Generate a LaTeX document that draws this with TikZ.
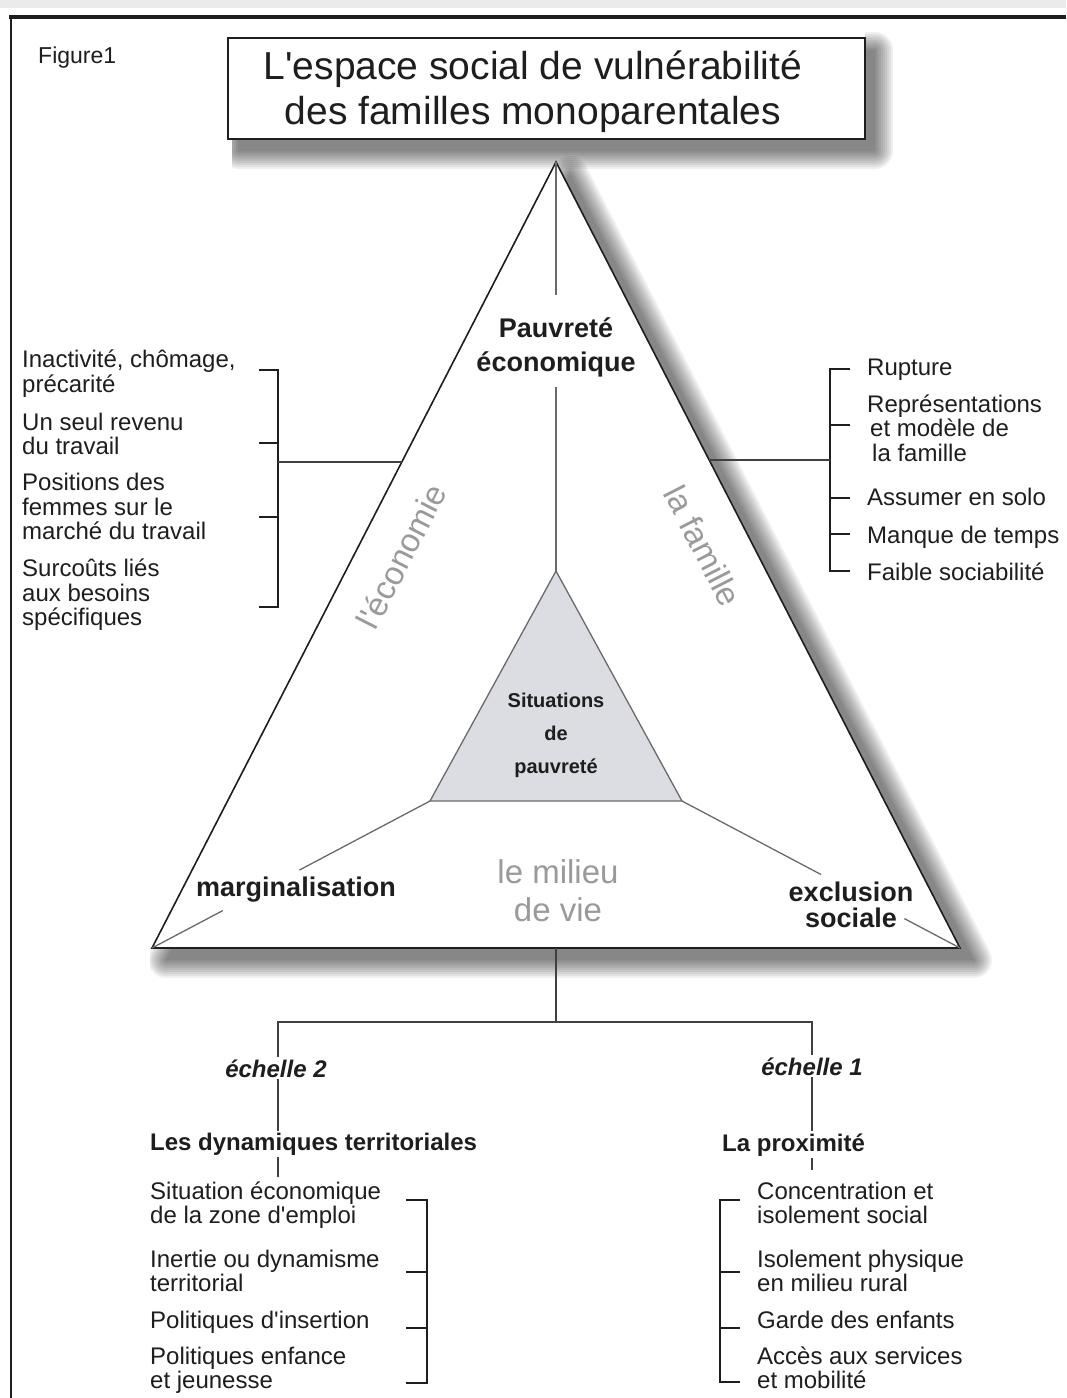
\documentclass[tikz,border=0pt]{standalone}
\usepackage{fontspec}
\setmainfont{Liberation Sans}[Ligatures=TeXOff]
\usetikzlibrary{calc}
\definecolor{txt}{HTML}{1E1E1E}
\definecolor{lbl}{HTML}{9A9A9A}
\definecolor{innerfill}{HTML}{DCDDE3}
\definecolor{thin}{HTML}{6A6A6A}
\newcommand{\softshadow}[1]{\foreach \w in {0.1,4,8,...,36}{\begin{scope}[transparency group, opacity=0.06]\filldraw[black,line width=\w pt,line join=round] #1;\end{scope}}}
\begin{document}
\begin{tikzpicture}[x=1pt,y=-1pt,
 every node/.style={inner sep=0pt, text=txt},
 lst/.style={anchor=base west, font=\fontsize{24}{25}\selectfont},
 bld/.style={anchor=base, font=\bfseries\fontsize{27}{30}\selectfont},
 gry/.style={anchor=base, text=lbl, font=\fontsize{33}{36}\selectfont},
 rotlbl/.style={text=lbl, font=\fontsize{33}{36}\selectfont},
 sit/.style={anchor=base, font=\bfseries\fontsize{20}{22}\selectfont},
 ech/.style={anchor=base, font=\bfseries\itshape\fontsize{24}{26}\selectfont, fill=white, inner sep=2pt},
 head/.style={anchor=base west, font=\bfseries\fontsize{24}{26}\selectfont, fill=white, inner sep=2pt},
 brk/.style={line width=2.2pt, draw=txt},
 edgeline/.style={line width=1.6pt, draw=txt, line join=miter},
 thinline/.style={line width=1.3pt, draw=thin},
 link/.style={line width=1.6pt, draw=txt!85}]
\useasboundingbox (0,0) rectangle (1066,1398);
\fill[white] (0,0) rectangle (1066,1398);
\fill[black!8] (0,0) rectangle (1066,8);
\draw[line width=3.5pt, txt] (9,17) -- (1066,17);
\draw[line width=2pt, txt] (11,16) -- (11,1398);

% key points
\coordinate (A) at (556,162);
\coordinate (B) at (152,948);
\coordinate (C) at (960,948);
\coordinate (iA) at (556,571);
\coordinate (iB) at (430,801);
\coordinate (iC) at (682,801);

% shadows
\begin{scope}
\clip (232,139) -- (232,200) -- (1000,200) -- (1000,20) -- (865,20) -- (865,139) -- cycle;
\softshadow{(238,50) rectangle (875,151)}
\end{scope}
\begin{scope}
\clip (556,150) -- (150,950) -- (150,1020) -- (1066,1020) -- (1066,150) -- cycle;
\softshadow{(570,174) -- (166,960) -- (974,960) -- cycle}
\end{scope}

% title
\filldraw[fill=white, line width=2pt, draw=txt] (228,38) rectangle (865,139);
\node[anchor=base, font=\fontsize{39}{45}\selectfont] (t1) at (533,79) {L'espace social de vulnérabilité};
\node[anchor=base, font=\fontsize{39}{45}\selectfont] (t2) at (533,124) {des familles monoparentales};
\node[anchor=base west, font=\fontsize{23}{25}\selectfont] (fig) at (38,63) {Figure1};

% triangles
\filldraw[fill=white, edgeline] (A) -- (B) -- (C) -- cycle;
\filldraw[fill=innerfill, thinline] (iA) -- (iB) -- (iC) -- cycle;
\coordinate (p1) at (556,295);
\coordinate (p2) at (556,387);
\draw[thinline] (A) -- (p1);
\draw[thinline] (p2) -- (iA);
\draw[thinline] (iB) -- ($(iB)!0.47!(B)$);
\draw[thinline] ($(iB)!0.745!(B)$) -- (B);
\draw[thinline] (iC) -- ($(iC)!0.5!(C)$);
\draw[thinline] ($(iC)!0.8!(C)$) -- (C);

% triangle texts
\node[bld] (pe1) at (556,337) {Pauvreté};
\node[bld] (pe2) at (556,371) {économique};
\node[sit] (s1) at (556,707) {Situations};
\node[sit] (s2) at (556,740) {de};
\node[sit] (s3) at (556,773) {pauvreté};
\node[bld] (marg) at (296,896) {marginalisation};
\node[bld] (ex1) at (851,901) {exclusion};
\node[bld] (ex2) at (851,927) {sociale};
\node[gry] (mv1) at (558,883) {le milieu};
\node[gry] (mv2) at (558,921) {de vie};
\node[rotlbl, rotate=62.85] (eco) at (401,556) {l'économie};
\node[rotlbl, rotate=-62.85] (fam) at (703,546) {la famille};

% left upper list
\node[lst] (a1) at (22,367) {Inactivité, chômage,};
\node[lst] (a2) at (22,392) {précarité};
\node[lst] (b1) at (22,430) {Un seul revenu};
\node[lst] (b2) at (22,454) {du travail};
\node[lst] (c1) at (22,490) {Positions des};
\node[lst] (c2) at (22,515) {femmes sur le};
\node[lst] (c3) at (22,539) {marché du travail};
\node[lst] (d1) at (22,576) {Surcoûts liés};
\node[lst] (d2) at (22,601) {aux besoins};
\node[lst] (d3) at (22,625) {spécifiques};
\draw[brk] (259,370) -| (278,607) -- (259,607);
\draw[brk] (259,443) -- (278,443);
\draw[brk] (259,517) -- (278,517);
\coordinate (lk) at (278,462);
\draw[link] (lk) -- ($(A)!0.3817!(B)$);

% right upper list
\node[lst] (r1) at (867,375) {Rupture};
\node[lst] (r2a) at (867,412) {Représentations};
\node[lst] (r2b) at (870,436) {et modèle de};
\node[lst] (r2c) at (872,461) {la famille};
\node[lst] (r3) at (867,505) {Assumer en solo};
\node[lst] (r4) at (867,543) {Manque de temps};
\node[lst] (r5) at (867,580) {Faible sociabilité};
\draw[brk] (850,369) -| (830,571) -- (850,571);
\draw[brk] (830,425) -- (850,425);
\draw[brk] (830,498) -- (850,498);
\draw[brk] (830,534) -- (850,534);
\coordinate (rk) at (830,460);
\draw[link] (rk) -- ($(A)!0.3791!(C)$);

% bottom tree
\coordinate (bc) at (556,948);
\coordinate (bj) at (556,1022);
\coordinate (bl) at (278,1022);
\coordinate (br) at (812,1022);
\coordinate (blend) at (278,1177);
\coordinate (brend) at (812,1170);
\draw[link] (bc) -- (bj);
\draw[link] (blend) -- (bl) -- (br) -- (brend);
\node[ech] (e2) at (276,1077) {échelle 2};
\node[ech] (e1) at (812,1075) {échelle 1};
\node[head] (dyn) at (148,1150) {Les dynamiques territoriales};
\node[head] (prox) at (720,1151) {La proximité};

% lower left list
\node[lst] (g1) at (150,1199) {Situation économique};
\node[lst] (g2) at (150,1223) {de la zone d'emploi};
\node[lst] (h1) at (150,1267) {Inertie ou dynamisme};
\node[lst] (h2) at (150,1291) {territorial};
\node[lst] (i1) at (150,1328) {Politiques d'insertion};
\node[lst] (j1) at (150,1364) {Politiques enfance};
\node[lst] (j2) at (150,1388) {et jeunesse};
\draw[brk] (406,1200) -| (427,1383) -- (406,1383);
\draw[brk] (406,1272) -- (427,1272);
\draw[brk] (406,1328) -- (427,1328);

% lower right list
\node[lst] (k1) at (757,1199) {Concentration et};
\node[lst] (k2) at (757,1223) {isolement social};
\node[lst] (m1) at (757,1267) {Isolement physique};
\node[lst] (m2) at (757,1291) {en milieu rural};
\node[lst] (n1) at (757,1328) {Garde des enfants};
\node[lst] (o1) at (757,1364) {Accès aux services};
\node[lst] (o2) at (757,1388) {et mobilité};
\draw[brk] (740,1200) -| (720,1382) -- (740,1382);
\draw[brk] (720,1272) -- (740,1272);
\draw[brk] (720,1328) -- (740,1328);
\end{tikzpicture}
\end{document}
